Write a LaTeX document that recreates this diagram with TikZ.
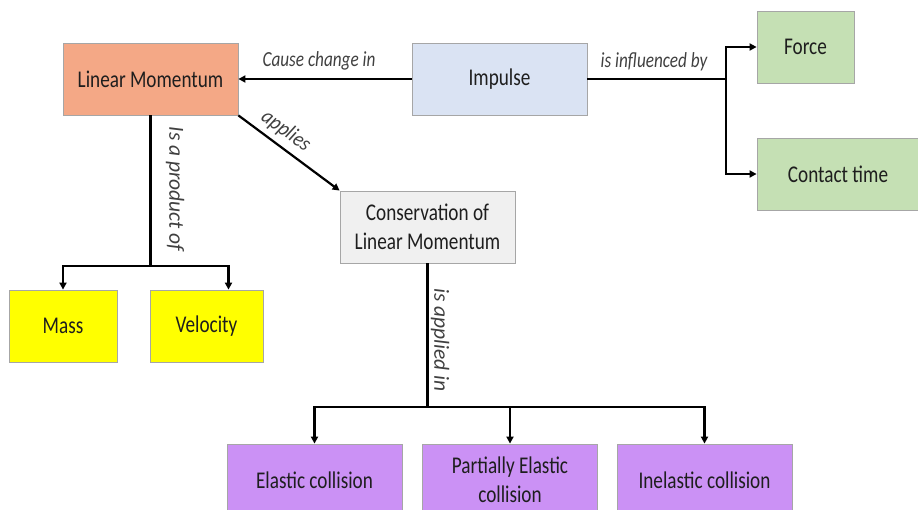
\documentclass[tikz,border=0pt]{standalone}
\usepackage{fontspec}
\setmainfont{Carlito}[FakeStretch=0.8]
\newfontfamily\vertlblfont{Carlito}
\newfontfamily\slantlblfont{Carlito}[FakeStretch=0.9]
\usetikzlibrary{arrows.meta}
\definecolor{salmonfill}{HTML}{F4A886}
\definecolor{bluefill}{HTML}{DAE3F3}
\definecolor{greenfill}{HTML}{C5E0B4}
\definecolor{grayfill}{HTML}{F0F0F0}
\definecolor{yellowfill}{HTML}{FFFF00}
\definecolor{purplefill}{HTML}{CB91F5}
\definecolor{boxline}{HTML}{A6A6A6}
\definecolor{txt}{HTML}{1E1E1E}
\definecolor{lbltxt}{HTML}{404040}
\begin{document}
\begin{tikzpicture}[x=1pt,y=-1pt,
  box/.style={draw=boxline, line width=0.8pt, minimum height=72pt, inner sep=0pt,
    align=center, text=txt, font=\fontsize{24}{29.5}\selectfont},
  ln/.style={line width=2.2pt, draw=black},
  arr/.style={ln, -{Triangle[length=7pt,width=7pt]}},
  lbl/.style={font=\itshape\fontsize{21.5}{26}\selectfont, text=lbltxt, inner sep=0pt},
  vlbl/.style={font=\vertlblfont\itshape\fontsize{21.5}{26}\selectfont, text=lbltxt, inner sep=0pt, rotate=-90},
  slbl/.style={font=\slantlblfont\itshape\fontsize{21.5}{26}\selectfont, text=lbltxt, inner sep=0pt, rotate=-36}
]
\useasboundingbox (0,0) rectangle (918,510);

% nodes
\node[box, fill=salmonfill, minimum width=175pt] (lm) at (150.5,79) {Linear Momentum};
\node[box, fill=bluefill, minimum width=175pt] (imp) at (499.5,79) {Impulse};
\node[box, fill=greenfill, minimum width=97pt] (force) at (805.5,47) {Force};
\node[box, fill=greenfill, minimum width=162pt] (contact) at (838,174) {Contact time};
\node[box, fill=grayfill, minimum width=175pt] (cons) at (427.5,227) {Conservation of\\Linear Momentum};
\node[box, fill=yellowfill, minimum width=108pt] (mass) at (63,326) {Mass};
\node[box, fill=yellowfill, minimum width=113pt] (vel) at (206.5,326) {Velocity};
\node[box, fill=purplefill, minimum width=175pt] (el) at (314.5,480) {Elastic collision};
\node[box, fill=purplefill, minimum width=175pt] (pel) at (510,480) {Partially Elastic\\collision};
\node[box, fill=purplefill, minimum width=175pt] (inel) at (704.5,480) {Inelastic collision};

% branch points
\coordinate (bi) at (726,79);
\coordinate (b1) at (150.5,266);
\coordinate (b2) at (427.5,407);

% connectors
\draw[arr] (imp.west) -- (lm.east);
\draw[ln] (imp.east) -- (bi);
\draw[arr] (bi) |- (force.west);
\draw[arr] (bi) |- (contact.west);

\draw[ln] (lm.south) -- (b1);
\draw[arr] (b1) -| (mass.north);
\draw[arr] (b1) -| ([xshift=22pt]vel.north);

\draw[arr] (lm.south east) -- (cons.north west);

\draw[ln] (cons.south) -- (b2);
\draw[arr] (b2) -| (el.north);
\draw[arr] (b2) -| (pel.north);
\draw[arr] (b2) -| (inel.north);

% labels
\node[lbl] (l1) at (319,61) {Cause change in};
\node[lbl] (l2) at (654,62) {is influenced by};
\node[vlbl] (l3) at (175,189) {Is a product of};
\node[slbl] (l4) at (286,131) {applies};
\node[vlbl] (l5) at (440,340) {is applied in};
\end{tikzpicture}
\end{document}
